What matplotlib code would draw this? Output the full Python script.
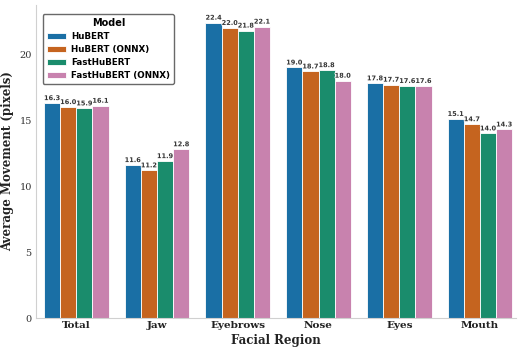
import numpy as np
import matplotlib
matplotlib.use("Agg")
import matplotlib.pyplot as plt
import matplotlib.patheffects as pe

# data
regions = ["Total", "Jaw", "Eyebrows", "Nose", "Eyes", "Mouth"]
models = ["HuBERT", "HuBERT (ONNX)", "FastHuBERT", "FastHuBERT (ONNX)"]
hubert = [16.3, 11.6, 22.4, 19.0, 17.8, 15.1]
hubert_onnx = [16.0, 11.2, 22.0, 18.7, 17.7, 14.7]
fasthubert = [15.9, 11.9, 21.8, 18.8, 17.6, 14.0]
fasthubert_onnx = [16.1, 12.8, 22.1, 18.0, 17.6, 14.3]
series = [hubert, hubert_onnx, fasthubert, fasthubert_onnx]

colors = ["#1a6fa5", "#c5641f", "#1a8c6c", "#c882ae"]

fig = plt.figure(figsize=(5.21, 3.51), dpi=100)
ax = fig.add_axes([0.069, 0.094, 0.922, 0.892])

x = np.arange(len(regions))
w = 0.2
for i, (vals, name) in enumerate(zip(series, models)):
    pos = x + (i - 1.5) * w
    bars = ax.bar(pos, vals, width=w, color=colors[i],
                  edgecolor="white", linewidth=0.6, label=name)
    for b, v in zip(bars, vals):
        t = ax.text(b.get_x() + b.get_width() / 2, v + 0.15, f"{v:.1f}",
                    ha="center", va="bottom", fontsize=4.7,
                    fontweight="bold", color="#333333")
        t.set_path_effects([pe.withStroke(linewidth=1.2, foreground="white")])

ax.set_xlim(-0.5, 5.45)
ax.set_ylim(0, max(max(s) for s in series) * 1.06)
ax.set_xticks(x)
ax.set_xticklabels(regions, family="DejaVu Serif", fontweight="bold",
                   fontsize=7.5, color="#222222")
ax.set_yticks([0, 5, 10, 15, 20])
for lab in ax.get_yticklabels():
    lab.set_family("DejaVu Serif")
    lab.set_fontsize(7)
    lab.set_color("#333333")
ax.tick_params(length=0, pad=3)
ax.tick_params(axis="x", pad=2)

ax.set_xlabel("Facial Region", family="DejaVu Serif", fontweight="bold",
              fontsize=8.5, color="#222222", labelpad=3)
ax.set_ylabel("Average Movement (pixels)", family="DejaVu Serif",
              fontweight="bold", fontsize=8.5, color="#222222", labelpad=4)

ax.spines["top"].set_visible(False)
ax.spines["right"].set_visible(False)
ax.spines["left"].set_color("#d0d0d0")
ax.spines["bottom"].set_color("#d0d0d0")

leg = ax.legend(title="Model", loc="upper left",
                prop={"weight": "bold", "size": 6.3},
                title_fontproperties={"weight": "bold", "size": 7},
                frameon=True, edgecolor="#444444", fancybox=True,
                borderpad=0.45, labelspacing=0.45, handlelength=2.2,
                handletextpad=0.6, bbox_to_anchor=(0.005, 0.985))
leg.get_frame().set_linewidth(1.0)

fig.savefig("out.png", dpi=100)
